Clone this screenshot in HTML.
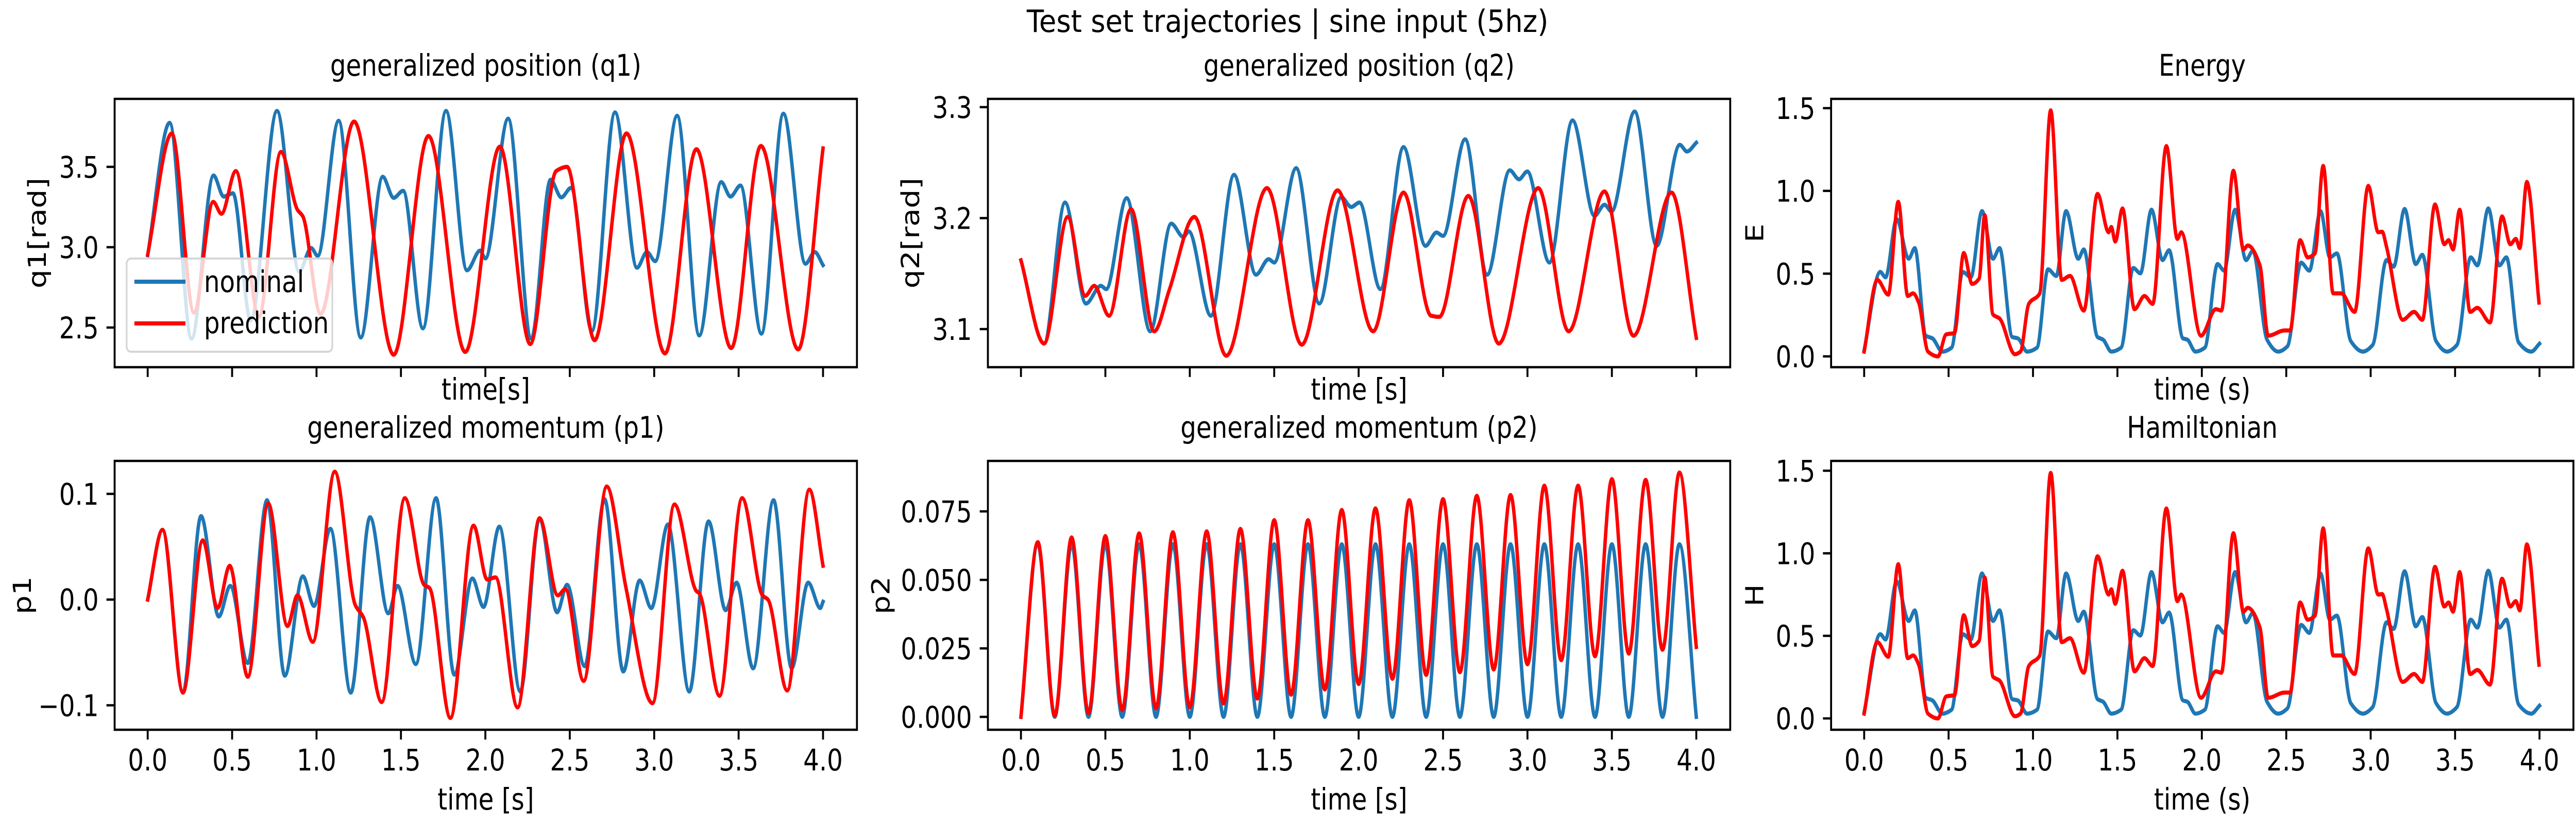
<!DOCTYPE html>
<html><head><meta charset="utf-8"><style>
html,body{margin:0;padding:0;background:#fff;overflow:hidden;width:100%;height:100%;}
svg{display:block;width:100vw;height:100vh;font-family:"DejaVu Sans","Liberation Sans",sans-serif;}
</style></head><body>
<svg id="fig" viewBox="0 0 6000 1600" preserveAspectRatio="none" xmlns="http://www.w3.org/2000/svg">
<rect width="6000" height="1600" fill="#fff"/>
<text x="2999" y="62" font-size="60" text-anchor="middle" textLength="1215" lengthAdjust="spacingAndGlyphs">Test set trajectories | sine input (5hz)</text>
<g id="root"></g>
</svg>
<script>
// ---- data (time in s) ----
const q1NomT=[0,.13,.26,.39,.45,.505,.61,.766,.897,.968,1.007,1.131,1.262,1.392,1.457,1.513,1.63,1.767,1.891,1.969,2.0,2.135,2.272,2.386,2.45,2.507,2.631,2.768,2.898,2.957,3.006,3.136,3.267,3.397,3.452,3.511,3.635,3.765,3.896,3.951,4.0];
const q1NomV=[2.95,3.774,2.43,3.446,3.315,3.336,2.544,3.848,2.848,2.995,2.946,3.787,2.438,3.438,3.307,3.351,2.495,3.848,2.856,2.979,2.93,3.80,2.43,3.42,3.31,3.369,2.479,3.839,2.872,2.97,2.913,3.818,2.451,3.405,3.315,3.384,2.462,3.831,2.897,2.97,2.888];
const q1PrdT=[0,.143,.274,.388,.437,.522,.659,.789,.887,.919,1.024,1.222,1.457,1.663,1.881,2.086,2.266,2.419,2.484,2.647,2.836,3.064,3.25,3.456,3.632,3.853,4.0];
const q1PrdV=[2.954,3.708,2.593,3.282,3.208,3.474,2.569,3.593,3.233,3.192,2.585,3.782,2.331,3.692,2.348,3.626,2.397,3.474,3.5,2.421,3.708,2.339,3.61,2.372,3.63,2.364,3.615];

const q2NomT=[0,.137,.261,.385,.473,.505,.626,.766,.89,.962,.994,1.125,1.262,1.392,1.467,1.5,1.63,1.767,1.897,1.956,2.005,2.129,2.266,2.396,2.461,2.5,2.631,2.761,2.895,2.95,2.999,3.13,3.267,3.397,3.456,3.498,3.635,3.765,3.902,3.945,4.0];
const q2NomV=[3.162,3.087,3.214,3.123,3.139,3.136,3.218,3.098,3.195,3.183,3.188,3.112,3.239,3.149,3.163,3.16,3.245,3.123,3.219,3.21,3.214,3.136,3.264,3.175,3.187,3.184,3.271,3.149,3.243,3.235,3.242,3.16,3.288,3.202,3.212,3.206,3.296,3.175,3.266,3.26,3.268];
const q2PrdT=[0,.137,.277,.381,.434,.522,.652,.789,.88,1.027,1.216,1.457,1.663,1.875,2.086,2.266,2.429,2.478,2.65,2.83,3.064,3.244,3.456,3.628,3.853,4.0];
const q2PrdV=[3.162,3.087,3.201,3.13,3.139,3.112,3.208,3.098,3.136,3.201,3.076,3.227,3.086,3.225,3.098,3.223,3.112,3.111,3.22,3.087,3.227,3.098,3.224,3.094,3.223,3.092];

const eNomT=[0,.095,.127,.192,.264,.3,.365,.404,.463,.518,.584,.632,.698,.763,.802,.877,.91,.965,1.024,1.089,1.138,1.196,1.268,1.301,1.382,1.415,1.464,1.522,1.594,1.636,1.702,1.767,1.806,1.888,1.914,1.962,2.018,2.093,2.132,2.197,2.262,2.302,2.386,2.452,2.507,2.588,2.637,2.703,2.758,2.8,2.882,2.954,3.012,3.094,3.136,3.201,3.267,3.306,3.387,3.452,3.511,3.593,3.632,3.697,3.762,3.804,3.876,3.951,4.0];
const eNomV=[.037,.51,.478,.83,.59,.654,.125,.109,.029,.053,.51,.478,.878,.59,.654,.117,.109,.029,.053,.526,.486,.878,.59,.646,.117,.101,.029,.053,.534,.502,.886,.582,.641,.109,.101,.029,.053,.558,.518,.886,.582,.638,.101,.029,.061,.566,.518,.878,.598,.622,.093,.029,.069,.582,.542,.891,.558,.614,.093,.029,.069,.598,.55,.894,.55,.598,.085,.029,.077];
const ePrdT=[0,.078,.143,.202,.258,.29,.323,.378,.437,.486,.535,.59,.639,.681,.714,.763,.802,.893,.926,.975,1.04,1.105,1.17,1.219,1.301,1.382,1.448,1.464,1.487,1.53,1.601,1.66,1.709,1.79,1.855,1.878,1.995,2.083,2.116,2.187,2.246,2.272,2.344,2.393,2.491,2.523,2.582,2.627,2.67,2.719,2.778,2.826,2.905,2.986,3.045,3.068,3.094,3.19,3.257,3.306,3.381,3.436,3.462,3.488,3.527,3.589,3.632,3.707,3.778,3.827,3.86,3.883,3.925,3.997];
const ePrdV=[.029,.462,.373,.934,.365,.381,.325,.029,0,.133,.141,.625,.438,.47,.854,.253,.229,.013,.029,.317,.381,1.487,.462,.486,.277,.982,.75,.782,.694,.894,.285,.365,.317,1.271,.71,.75,.125,.285,.277,1.122,.646,.67,.55,.125,.157,.157,.702,.598,.622,1.151,.381,.381,.269,1.03,.75,.753,.662,.221,.269,.221,.918,.678,.702,.646,.886,.269,.293,.205,.846,.678,.71,.654,1.054,.325];

const p1NomT=[0,.088,.209,.316,.421,.489,.593,.707,.812,.919,.985,1.082,1.203,1.317,1.425,1.48,1.588,1.708,1.816,1.923,1.989,2.083,2.207,2.321,2.425,2.484,2.588,2.706,2.817,2.914,2.983,3.081,3.208,3.322,3.423,3.488,3.586,3.707,3.814,3.912,3.984,4.0];
const p1NomV=[0,.066,-.088,.079,-.016,.013,-.06,.094,-.072,.022,-.006,.067,-.088,.078,-.013,.013,-.061,.096,-.071,.02,-.007,.069,-.087,.077,-.012,.014,-.063,.095,-.068,.018,-.008,.071,-.087,.074,-.01,.016,-.065,.094,-.065,.016,-.008,-.002];
const p1PrdT=[0,.088,.209,.326,.414,.486,.593,.714,.828,.887,.978,1.108,1.229,1.278,1.386,1.523,1.637,1.669,1.793,1.93,2.011,2.06,2.191,2.321,2.429,2.474,2.582,2.719,2.833,2.99,3.12,3.25,3.267,3.387,3.521,3.641,3.674,3.788,3.919,4.0];
const p1PrdV=[0,.066,-.088,.056,-.008,.032,-.073,.091,-.025,.004,-.04,.121,-.005,-.017,-.097,.096,.014,.011,-.112,.07,.019,.021,-.102,.077,.004,.01,-.077,.107,.011,-.098,.09,.008,.006,-.091,.096,.004,0,-.086,.104,.032];

const p2NomT=[0,.1,.2,.3,.4,.5,.6,.7,.8,.9,1.0,1.1,1.2,1.3,1.4,1.5,1.6,1.7,1.8,1.9,2.0,2.1,2.2,2.3,2.4,2.5,2.6,2.7,2.8,2.9,3.0,3.1,3.2,3.3,3.4,3.5,3.6,3.7,3.8,3.9,4.0];
const p2NomV=[0,.063,0,.063,0,.063,0,.063,0,.063,0,.063,0,.063,0,.063,0,.063,0,.063,0,.063,0,.063,0,.063,0,.063,0,.063,0,.063,0,.063,0,.063,0,.063,0,.063,0];
const p2PrdT=[0,.1,.2,.3,.4,.5,.6,.7,.8,.9,1.0,1.1,1.2,1.3,1.4,1.5,1.6,1.7,1.8,1.9,2.0,2.1,2.2,2.3,2.4,2.5,2.6,2.7,2.8,2.9,3.0,3.1,3.2,3.3,3.4,3.5,3.6,3.7,3.8,3.9,4.0];
const p2PrdV=[0,.0638,.0004,.0655,.0014,.066,.0025,.067,.0031,.0674,.0035,.0677,.0049,.0686,.0067,.0718,.0081,.0718,.01,.0755,.012,.0761,.0139,.0791,.0153,.0795,.0163,.0807,.0173,.081,.0192,.0844,.0207,.0844,.0221,.0868,.0231,.0865,.0245,.0892,.0255];

const hNomT=eNomT.slice();
const hNomV=eNomV.slice();
const hPrdT=ePrdT.slice();
const hPrdV=ePrdV.slice();

const xTicks=[0,0.5,1,1.5,2,2.5,3,3.5,4];
const xTickLabels=["0.0","0.5","1.0","1.5","2.0","2.5","3.0","3.5","4.0"];
const q1Ticks=[2.5,3.0,3.5]; const q1Labels=["2.5","3.0","3.5"];
const q2Ticks=[3.1,3.2,3.3]; const q2Labels=["3.1","3.2","3.3"];
const eTicks=[0,0.5,1,1.5]; const eLabels=["0.0","0.5","1.0","1.5"];
const p1Ticks=[-0.1,0,0.1]; const p1Labels=["\u22120.1","0.0","0.1"];
const p2Ticks=[0,0.025,0.05,0.075]; const p2Labels=["0.000","0.025","0.050","0.075"];

// ---- layout ----
const NS="http://www.w3.org/2000/svg";
const root=document.getElementById('root');
function mk(tag,attrs,parent){const e=document.createElementNS(NS,tag);for(const k in attrs)e.setAttribute(k,attrs[k]);(parent||root).appendChild(e);return e;}

const panels=[
 {id:'q1',left:267,top:192,bot:713,y1:[3.5,324],y2:[2.5,636],ticks:q1Ticks,labels:q1Labels,title:'generalized position (q1)',ylabel:'q1[rad]',xlabel:'time[s]',xl:false,nomT:q1NomT,nomV:q1NomV,prdT:q1PrdT,prdV:q1PrdV,ylx:107},
 {id:'q2',left:2301,top:192,bot:713,y1:[3.3,208],y2:[3.1,639],ticks:q2Ticks,labels:q2Labels,title:'generalized position (q2)',ylabel:'q2[rad]',xlabel:'time [s]',xl:false,nomT:q2NomT,nomV:q2NomV,prdT:q2PrdT,prdV:q2PrdV,ylx:2141},
 {id:'energy',left:4265,top:192,bot:713,y1:[1.5,210],y2:[0,692],ticks:eTicks,labels:eLabels,title:'Energy',ylabel:'E',xlabel:'time (s)',xl:false,nomT:eNomT,nomV:eNomV,prdT:ePrdT,prdV:ePrdV,ylx:4107},
 {id:'p1',left:267,top:895,bot:1417,y1:[0.1,959],y2:[-0.1,1369.5],ticks:p1Ticks,labels:p1Labels,title:'generalized momentum (p1)',ylabel:'p1',xlabel:'time [s]',xl:true,nomT:p1NomT,nomV:p1NomV,prdT:p1PrdT,prdV:p1PrdV,ylx:72},
 {id:'p2',left:2301,top:895,bot:1417,y1:[0.075,993],y2:[0,1392],ticks:p2Ticks,labels:p2Labels,title:'generalized momentum (p2)',ylabel:'p2',xlabel:'time [s]',xl:true,nomT:p2NomT,nomV:p2NomV,prdT:p2PrdT,prdV:p2PrdV,ylx:2072},
 {id:'hamiltonian',left:4265,top:895,bot:1417,y1:[1.5,914],y2:[0,1395],ticks:eTicks,labels:eLabels,title:'Hamiltonian',ylabel:'H',xlabel:'time (s)',xl:true,nomT:hNomT,nomV:hNomV,prdT:hPrdT,prdV:hPrdV,ylx:4107}
];
const W=1729;

// monotone cubic (Fritsch-Carlson) for smooth drawing through read keypoints
function smoothPath(T,V,xf,yf){
 const n=T.length,d=[],m=new Array(n).fill(0);
 for(let i=0;i<n-1;i++)d.push((V[i+1]-V[i])/(T[i+1]-T[i]));
 m[0]=d[0];m[n-1]=d[n-2];
 for(let i=1;i<n-1;i++){if(d[i-1]*d[i]<=0)m[i]=0;else{const w1=2*(T[i+1]-T[i])+(T[i]-T[i-1]),w2=(T[i+1]-T[i])+2*(T[i]-T[i-1]);m[i]=(w1+w2)/(w1/d[i-1]+w2/d[i]);}}
 let s='M'+xf(T[0]).toFixed(1)+','+yf(V[0]).toFixed(1);
 for(let i=0;i<n-1;i++){const h=T[i+1]-T[i];
  const c1x=T[i]+h/3,c1y=V[i]+m[i]*h/3,c2x=T[i+1]-h/3,c2y=V[i+1]-m[i+1]*h/3;
  s+=' C'+xf(c1x).toFixed(1)+','+yf(c1y).toFixed(1)+' '+xf(c2x).toFixed(1)+','+yf(c2y).toFixed(1)+' '+xf(T[i+1]).toFixed(1)+','+yf(V[i+1]).toFixed(1);}
 return s;
}

panels.forEach(p=>{
 const g=mk('g',{});
 
 
 const xf=t=>p.left+77+t*393.25;
 const k=(p.y2[1]-p.y1[1])/(p.y2[0]-p.y1[0]);
 const yf=v=>p.y1[1]+(v-p.y1[0])*k;
 const cx=p.left+W/2;
 const tt=mk('text',{x:cx,y:p.top-45,'font-size':58,'text-anchor':'middle'},g);
 tt.textContent=p.title;
 
 
 const clipId='clip-'+p.id;
 const cp=mk('clipPath',{id:clipId},g);mk('rect',{x:p.left,y:p.top,width:W,height:p.bot-p.top},cp);
 const nom=mk('path',{d:smoothPath(p.nomT,p.nomV,xf,yf),fill:'none',stroke:'#1f77b4','stroke-width':8,'stroke-linejoin':'round','stroke-linecap':'square','clip-path':'url(#'+clipId+')'},g);
 
 
 const prd=mk('path',{d:smoothPath(p.prdT,p.prdV,xf,yf),fill:'none',stroke:'#ff0000','stroke-width':8,'stroke-linejoin':'round','stroke-linecap':'square','clip-path':'url(#'+clipId+')'},g);
 
 
 const fr=mk('rect',{x:p.left,y:p.top,width:W,height:p.bot-p.top,fill:'none',stroke:'#000','stroke-width':4.5},g);
 
 
 xTicks.forEach((t,i)=>{
  const tk=mk('line',{x1:xf(t),x2:xf(t),y1:p.bot,y2:p.bot+19,stroke:'#000','stroke-width':4.5},g);
  
  
  if(p.xl){const lb=mk('text',{x:xf(t),y:p.bot+79,'font-size':58,'text-anchor':'middle'},g);lb.textContent=xTickLabels[i];
   
   }
 });
 p.ticks.forEach((v,i)=>{
  const tk=mk('line',{x1:p.left-19,x2:p.left,y1:yf(v),y2:yf(v),stroke:'#000','stroke-width':4.5},g);
  
  
  const lb=mk('text',{x:p.left-37,y:yf(v)+21,'font-size':58,'text-anchor':'end'},g);lb.textContent=p.labels[i];
  
  
 });
 const xl=mk('text',{x:cx,y:p.xl?p.bot+155:p.bot+63,'font-size':58,'text-anchor':'middle'},g);xl.textContent=p.xlabel;
 
 
 const ymid=(p.top+p.bot)/2;
 const yl=mk('text',{x:p.ylx,y:ymid,'font-size':58,'text-anchor':'middle',transform:'rotate(-90 '+p.ylx+' '+ymid+')'},g);yl.textContent=p.ylabel;
 
 
});

// legend in q1 panel
const lg=mk('g',{});


mk('rect',{x:295,y:502,width:479,height:181,rx:10,fill:'#fff','fill-opacity':0.8,stroke:'#d6d6d6','stroke-width':4},lg);
const le1=mk('line',{x1:313,x2:432,y1:547,y2:547,stroke:'#1f77b4','stroke-width':8},lg);


const lt1=mk('text',{x:475,y:567,'font-size':58},lg);lt1.textContent='nominal';


const le2=mk('line',{x1:313,x2:432,y1:628,y2:628,stroke:'#ff0000','stroke-width':8},lg);


const lt2=mk('text',{x:475,y:647,'font-size':58},lg);lt2.textContent='prediction';


</script>
</body></html>
